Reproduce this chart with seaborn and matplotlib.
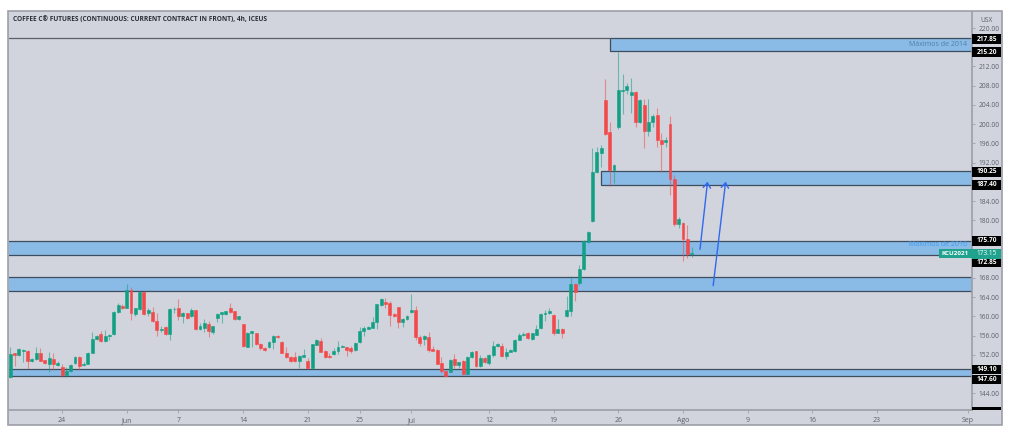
import matplotlib
matplotlib.use("Agg")
import matplotlib.pyplot as plt
from matplotlib.patches import Rectangle
from matplotlib.transforms import blended_transform_factory
import numpy as np
import pandas as pd
import seaborn as sns

opens = [147.35,152.3,152.0,152.9,152.9,150.75,151.1,152.4,150.9,150.1,
151.15,149.9,149.4,147.8,148.6,150.25,151.65,149.8,150.2,152.5,
155.25,156.4,154.9,155.9,156.3,160.85,162.1,161.8,165.5,160.45,
161.55,165.0,160.65,160.85,159.05,157.2,157.8,156.35,161.5,161.8,
160.1,160.65,160.1,161.25,157.3,157.6,158.45,156.85,159.75,160.45,
160.5,161.75,161.05,159.45,158.35,153.7,156.65,156.5,154.3,153.45,
153.65,154.7,156.0,154.7,152.45,151.65,151.5,150.75,151.65,150.75,
149.3,154.15,154.9,152.9,151.7,152.2,152.8,153.7,153.6,153.4,
153.0,154.6,156.9,157.45,157.7,158.9,162.3,162.95,162.7,160.45,
161.9,158.85,159.45,160.85,161.35,155.7,155.25,155.7,153.3,153.0,
150.3,148.7,148.5,151.1,150.0,150.8,148.05,151.5,152.75,149.7,
151.3,150.4,152.0,153.8,153.95,151.8,152.7,152.8,155.1,156.1,
156.6,155.3,156.2,157.5,160.45,160.65,160.35,156.65,157.35,160.05,
161.2,166.75,166.9,169.9,175.5,179.85,190.05,194.0,205.1,198.4,
190.45,199.35,206.9,207.1,206.05,206.7,200.45,204.0,198.6,200.45,
201.9,196.7,196.3,200.05,188.65,179.25,179.45,176.1,173.0]
highs = [153.6,152.5,153.45,153.2,153.0,151.3,153.6,153.4,151.0,152.7,
152.3,150.7,150.1,149.4,150.05,151.8,151.8,150.6,152.7,156.7,
156.1,157.05,157.2,156.3,161.1,162.9,162.6,166.75,166.2,161.8,
165.2,165.2,161.8,162.0,160.65,158.0,158.0,161.7,161.9,163.55,
160.95,160.8,161.8,161.4,158.55,159.4,159.1,158.1,160.8,161.0,
161.2,162.7,161.2,160.15,158.5,156.7,157.05,156.65,154.4,153.6,
154.8,156.1,156.2,154.8,153.6,151.8,152.7,151.9,153.2,151.3,
154.35,155.4,155.45,153.0,152.3,153.4,154.8,154.05,153.7,153.85,
154.6,157.75,158.0,157.95,159.8,162.65,163.8,163.9,163.3,160.8,
162.05,159.7,160.25,164.7,162.25,156.15,156.05,156.7,153.85,153.15,
151.65,148.85,151.1,152.2,150.6,150.95,151.8,152.8,152.9,152.0,
151.65,152.1,154.9,154.55,154.4,153.4,153.2,155.3,156.6,156.8,
156.85,156.65,158.2,160.8,161.35,161.8,160.5,159.4,157.5,164.25,
168.4,166.9,170.7,175.9,177.8,195.0,195.3,195.65,209.4,200.45,
191.7,215.05,210.45,208.55,209.6,206.95,205.2,205.2,205.2,202.1,
203.35,198.15,197.3,201.7,189.4,180.7,179.65,179.0,174.45]
lows = [147.1,149.7,151.85,150.6,149.0,150.5,150.95,150.7,150.2,148.4,
148.9,149.7,147.5,147.5,148.45,150.1,148.9,149.65,150.05,152.4,
155.0,154.6,154.6,155.1,156.15,160.65,161.5,161.7,159.25,160.1,
161.3,160.3,160.15,158.85,155.95,156.85,156.2,155.1,160.65,159.25,
158.7,159.4,159.95,157.25,157.2,156.85,155.65,156.35,158.85,158.55,
160.35,160.65,159.25,159.35,153.65,153.6,153.7,154.15,153.0,152.8,
153.5,153.2,155.45,152.3,151.4,150.6,150.6,149.2,151.5,149.05,
149.15,154.0,152.55,151.3,151.3,152.05,152.2,153.6,151.8,152.3,
152.9,154.4,155.95,157.3,157.55,157.4,162.2,161.7,158.0,159.95,
157.65,157.9,159.35,160.7,155.1,153.85,154.05,152.7,152.75,150.05,
148.2,147.5,148.4,149.2,149.2,147.9,147.9,151.35,149.55,149.55,
150.4,149.9,151.65,153.65,151.65,151.1,152.55,152.7,155.0,155.95,
155.25,155.15,156.15,157.4,159.05,160.5,156.1,156.5,155.6,159.9,
160.15,163.3,166.45,169.7,175.3,179.7,189.85,191.1,197.8,187.15,
187.75,199.0,202.1,206.25,202.3,199.4,200.25,195.05,197.55,199.4,
195.25,190.05,195.25,185.25,178.8,178.4,171.6,172.15,172.35]
closes = [152.2,152.0,153.3,153.0,150.7,151.15,152.4,150.8,150.3,151.3,
150.1,150.3,147.8,148.6,149.85,151.65,149.7,150.05,152.5,155.3,
155.9,154.9,156.0,156.15,160.9,162.3,161.7,165.5,160.65,161.7,
165.0,160.5,161.35,159.05,157.2,157.4,156.35,161.55,161.55,160.15,
160.8,159.75,161.25,157.4,158.0,158.55,156.9,157.95,160.45,160.85,
161.05,160.85,159.45,160.0,153.8,156.55,156.9,154.3,153.4,153.0,
154.7,155.95,155.7,152.45,151.5,150.75,150.75,151.8,151.9,149.35,
154.2,155.2,152.7,151.65,151.5,152.9,153.6,153.9,153.0,152.9,
154.4,156.9,157.6,157.8,158.9,162.5,163.55,162.65,160.4,160.1,
158.9,159.55,160.1,161.35,155.7,154.4,155.95,153.0,152.9,150.2,
148.7,147.7,150.95,149.85,150.45,148.05,151.6,152.7,149.7,151.35,
150.5,152.0,153.85,154.35,151.85,152.6,153.1,155.1,156.1,156.35,
155.45,156.5,157.45,160.45,160.7,161.2,156.65,157.35,156.65,161.25,
166.75,165.15,169.9,175.7,177.6,190.05,194.3,195.05,198.0,190.45,
191.55,207.1,207.1,207.95,206.7,200.45,205.0,198.6,200.45,201.7,
196.7,195.85,196.7,188.6,179.25,180.35,176.1,173.0,173.15]

date_positions = [12, 27, 39, 54, 69, 81, 93, 111, 126, 141, 156, 171, 186, 201, 222]
date_labels = ["24", "Jun", "7", "14", "21", "25", "Jul", "12", "19", "26", "Ago", "9", "16", "23", "Sep"]
price_ticks = [144, 152, 156, 160, 164, 168, 180, 184, 192, 196, 200, 204, 208, 212, 220]

band_tops = [217.85, 190.25, 175.70, 168.2, 149.10]
band_bottoms = [215.20, 187.40, 172.85, 165.35, 147.60]
band_starts = [139.0, 137.0, -3.0, -3.0, -3.0]
level_values = ["217.85", "215.20", "190.25", "187.40", "175.70", "172.85", "149.10", "147.60"]
level_positions = [217.7, 215.0, 190.05, 187.35, 175.7, 171.2, 148.9, 146.9]

arrow_starts = [(159.95, 173.97), (163.0, 166.4)]
arrow_ends = [(161.7, 188.03), (165.9, 188.03)]

W, H = 1014, 443
BG = "#D1D4DC"
GREEN = "#12A085"
RED = "#F2494A"
AXC = "#9C9FA6"
TXT = "#5A5F6A"

sns.set_theme(style="white", rc={"axes.facecolor": BG, "figure.facecolor": "white"})
plt.rcParams["font.family"] = ["Open Sans", "DejaVu Sans"]

fig = plt.figure(figsize=(W / 100, H / 100), dpi=100)
fig.patches.append(Rectangle((8 / W, 1 - 425 / H), 994 / W, 414 / H, transform=fig.transFigure,
                             facecolor=BG, edgecolor=AXC, lw=1.2, zorder=-5))
ax = fig.add_axes([9 / W, 1 - 410 / H, 963 / W, 398 / H])
ax.set_facecolor(BG)

df = pd.DataFrame({"i": np.arange(len(opens)), "o": opens, "h": highs, "l": lows, "c": closes})
df["bottom"] = df[["o", "c"]].min(axis=1)
df["body"] = (df["o"] - df["c"]).abs()
df["up"] = df["c"] >= df["o"]

for flag, col in [(True, GREEN), (False, RED)]:
    sub = df[df["up"] == flag].sort_values("i")
    ax.vlines(sub["i"], sub["l"], sub["h"], color=col, lw=0.8, alpha=0.55, zorder=3)
    sns.barplot(data=sub, x="i", y="body", bottom=sub["bottom"].to_numpy(), native_scale=True,
                color=col, saturation=1, width=0.68, errorbar=None, linewidth=0.4,
                edgecolor=col, ax=ax, zorder=4)

x0, x1 = -0.30, 223.03
y0, y1 = 140.54, 223.33
for top, bot, start in zip(band_tops, band_bottoms, band_starts):
    ax.add_patch(Rectangle((start, bot), x1 + 3 - start, top - bot, facecolor="#8ABAE6",
                           edgecolor="#3F4E5E", lw=0.9, zorder=2))
ax.plot([x0, band_starts[0]], [band_tops[0], band_tops[0]], color="#5A5F68", lw=0.9, zorder=2)

for s, e in zip(arrow_starts, arrow_ends):
    ax.annotate("", xy=e, xytext=s, zorder=5,
                arrowprops=dict(arrowstyle="->,head_length=0.3,head_width=0.22", color="#3068F0",
                                lw=1.0, shrinkA=0, shrinkB=0))

ax.set_xlim(x0, x1)
ax.set_ylim(y0, y1)
ax.set_xlabel("")
ax.set_ylabel("")
ax.set_xticks(date_positions)
ax.set_xticklabels(date_labels)
ax.yaxis.tick_right()
ax.set_yticks(price_ticks)
ax.set_yticklabels([f"{t:.2f}" for t in price_ticks])
ax.tick_params(axis="x", length=2, width=0.6, color=AXC, labelsize=5.0, labelcolor=TXT, pad=3, bottom=True)
ax.tick_params(axis="y", length=2, width=0.6, color=AXC, labelsize=4.8, labelcolor=TXT, pad=2.5, right=True)
for side in ["left", "top"]:
    ax.spines[side].set_visible(False)
for side in ["right", "bottom"]:
    ax.spines[side].set_color(AXC)
    ax.spines[side].set_linewidth(1.2)

tr = blended_transform_factory(ax.transAxes, ax.transData)
px = 1 / 963
for val, pos in zip(level_values, level_positions):
    ax.add_patch(Rectangle((1, pos - 0.95), 29 * px, 1.9, transform=tr, facecolor="black",
                           edgecolor="none", clip_on=False, zorder=6))
    ax.text(1 + 15 * px, pos, val, transform=tr, color="white", fontsize=4.7, fontweight="bold",
            ha="center", va="center", clip_on=False, zorder=7)
ax.add_patch(Rectangle((1, 172.05), 29 * px, 1.95, transform=tr, facecolor="#1FA38F",
                       edgecolor="none", clip_on=False, zorder=6))
ax.text(1 + 15 * px, 173.0, "173.15", transform=tr, color="white", fontsize=4.7,
        ha="center", va="center", clip_on=False, zorder=7)
ax.add_patch(Rectangle((1 - 33 * px, 172.1), 33 * px, 1.85, transform=tr, facecolor="#1FA38F",
                       edgecolor="none", clip_on=False, zorder=6))
ax.text(1 - 16.5 * px, 173.0, "KCU2021", transform=tr, color="white", fontsize=4.5, fontweight="bold",
        ha="center", va="center", clip_on=False, zorder=7)
ax.add_patch(Rectangle((1, y0), 29 * px, 0.6, transform=tr, facecolor="black",
                       edgecolor="none", clip_on=False, zorder=6))

ax.text(1 - 5 * px, 216.55, "Máximos de 2014", transform=tr, color="#4F7FA8", fontsize=5.0,
        ha="right", va="center", zorder=5)
ax.text(1 - 5 * px, 174.9, "Máximos de 2016", transform=tr, color="#3D9BEF", fontsize=5.0,
        ha="right", va="center", zorder=5)

fig.text(987 / W, 1 - 20 / H, "USX", color=TXT, fontsize=4.8, ha="center", va="center")
fig.text(13 / W, 1 - 20 / H, "COFFEE C® FUTURES (CONTINUOUS: CURRENT CONTRACT IN FRONT), 4h, ICEUS",
         color="#2A2E39", fontsize=4.7, fontweight="bold", ha="left", va="center")

fig.savefig("out.png", dpi=100, facecolor="white")
